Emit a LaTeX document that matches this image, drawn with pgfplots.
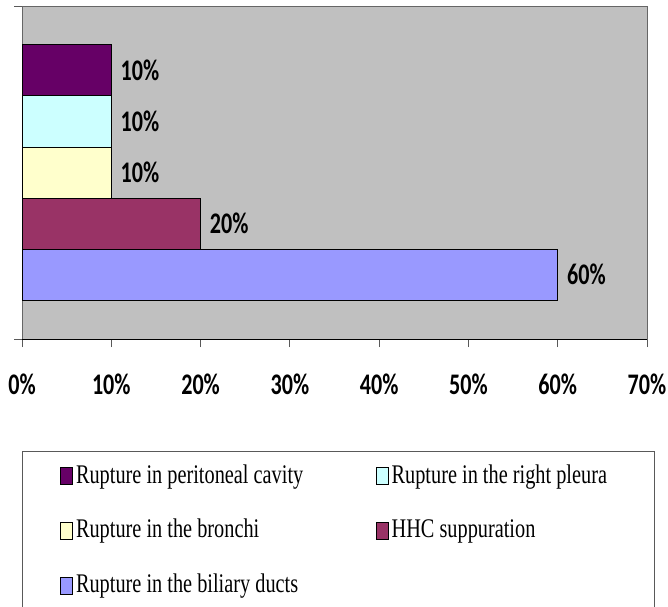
\documentclass[border=0pt]{standalone}
\usepackage{graphicx}
\usepackage{pgfplots}
\pgfplotsset{compat=1.18}
\usepackage{fontspec}
\setmainfont{Liberation Serif}
\newfontfamily\lblfont{Carlito}
\definecolor{bgray}{RGB}{192,192,192}
\definecolor{cpurple}{RGB}{102,0,102}
\definecolor{ccyan}{RGB}{204,255,255}
\definecolor{cyellow}{RGB}{255,255,204}
\definecolor{cmaroon}{RGB}{153,51,102}
\definecolor{cblue}{RGB}{153,153,255}
\newcommand\pct[1]{\scalebox{0.74}[1]{\lblfont\bfseries\fontsize{30}{30}\selectfont #1\%}}
\newcommand\legtxt[2]{\makebox[#1][l]{\scalebox{0.755}[1]{\fontsize{27}{27}\selectfont #2}}}
\begin{document}
\begin{tikzpicture}
\useasboundingbox (-22bp,-268bp) rectangle (646bp,339bp);
\begin{axis}[
  /pgf/number format/assume math mode=true,
  scale only axis, width=625bp, height=333bp,
  xbar, bar width=1, bar shift=0,
  xmin=0, xmax=70, ymin=-1.26, ymax=5.26,
  xtick={0,10,...,70},
  xticklabel={\pct{\pgfmathprintnumber{\tick}}},
  xticklabel style={yshift=-23bp},
  ytick={-1.26,5.26}, yticklabels={},
  xtick pos=lower, ytick pos=left,
  tick align=outside, major tick length=8bp,
  tick style={gray!70!black, line width=0.8bp},
  axis background/.style={fill=bgray},
  axis line style={gray!80!black, line width=0.8bp},
  point meta=x,
  nodes near coords={\pct{\pgfmathprintnumber{\pgfplotspointmeta}}},
  nodes near coords align=horizontal,
  every node near coord/.append style={black, inner xsep=9bp},
  every axis plot/.append style={draw=black, line width=0.8bp},
  legend columns=2,
  legend cell align=left,
  legend style={at={(0,-0.3363)}, anchor=north west, draw=gray!70!black,
    fill=white, line width=0.8bp, inner xsep=38bp, inner ysep=16bp,
    /tikz/row sep=34bp, /tikz/column sep=0bp,
    nodes={inner xsep=3bp, inner ysep=0bp, text height=14bp, text depth=5bp}},
  legend image code/.code={\draw[#1,draw=black,line width=0.6bp] (0bp,-6bp) rectangle (12bp,11bp);},
]
\addplot[fill=cpurple] coordinates {(10,4)};
\addlegendentry{\legtxt{297bp}{Rupture in peritoneal cavity}}
\addplot[fill=ccyan] coordinates {(10,3)};
\addlegendentry{\legtxt{222bp}{Rupture in the right pleura}}
\addplot[fill=cyellow] coordinates {(10,2)};
\addlegendentry{\legtxt{297bp}{Rupture in the bronchi}}
\addplot[fill=cmaroon] coordinates {(20,1)};
\addlegendentry{\legtxt{222bp}{HHC suppuration}}
\addplot[fill=cblue] coordinates {(60,0)};
\addlegendentry{\legtxt{297bp}{Rupture in the biliary ducts}}
\draw[black, line width=1bp] (rel axis cs:0,0) -- (rel axis cs:1,0);
\end{axis}
\end{tikzpicture}
\end{document}
